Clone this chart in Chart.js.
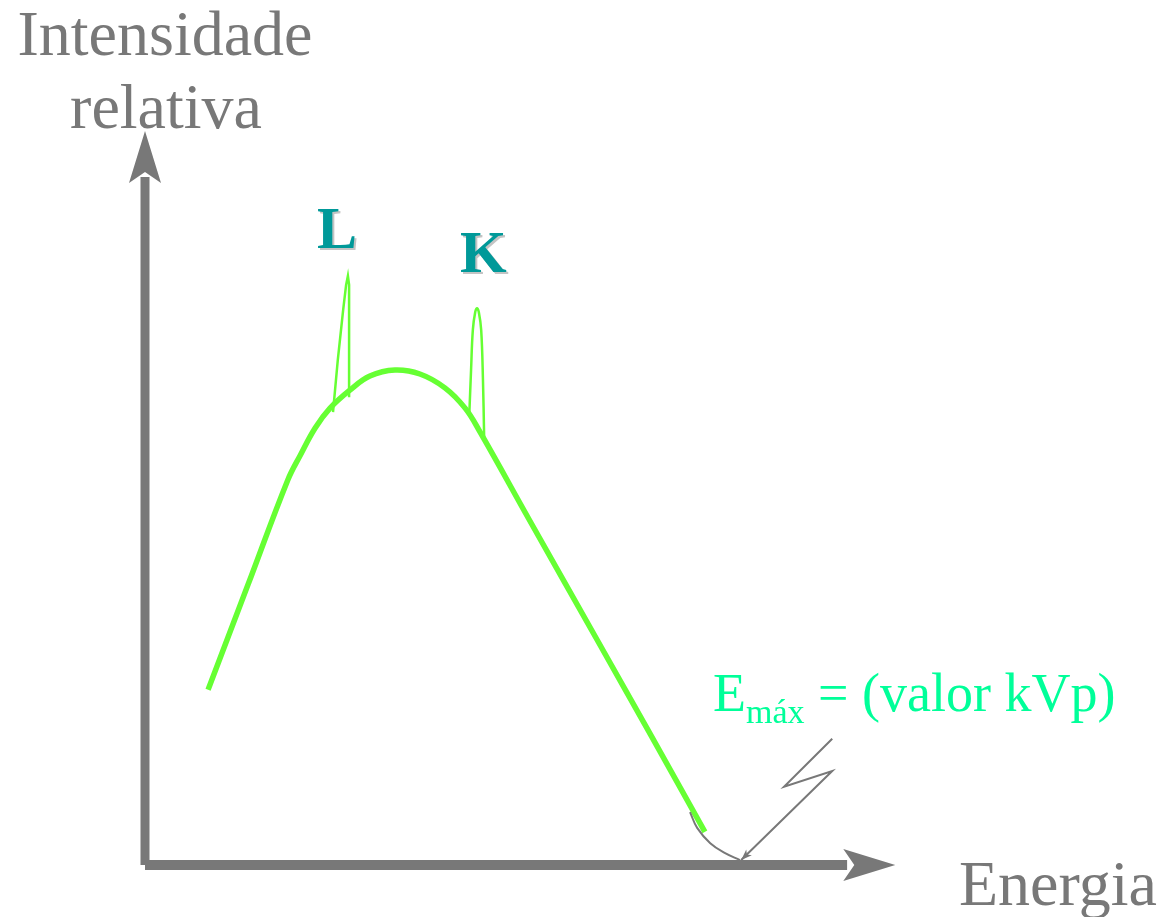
<!DOCTYPE html>
<html>
<head>
<meta charset="utf-8">
<script src="https://cdn.jsdelivr.net/npm/chart.js@4.4.0/dist/chart.umd.min.js"></script>
<style>
  html, body { margin: 0; padding: 0; background: #fff; }
  #wrap { width: 1164px; height: 917px; }
</style>
</head>
<body>
<div id="wrap"><canvas id="c" width="1164" height="917"></canvas></div>
<script>
// energy in units where Emax = 100, intensity where continuum peak = 100
const contE = [10.6, 17.3, 24.0, 26.1, 28.6, 31.1, 34.5, 37.8, 42.0, 46.2, 50.4, 53.8, 56.3, 64.7, 76.5, 84.9, 94.1];
const contI = [35.4, 56.6, 77.8, 82.8, 88.3, 92.3, 96.0, 98.8, 100, 99.2, 96.4, 92.3, 87.5, 69.5, 44.4, 26.5, 6.7];

// characteristic lines
const lineLE = [31.6, 32.4, 33.3, 33.8, 34.1, 34.3, 34.3];
const lineLI = [91.5, 102.0, 112.1, 117.2, 119.0, 117.2, 94.5];
const lineKE = [54.5, 54.8, 55.1, 55.5, 55.8, 56.1, 56.5, 56.8, 57.0];
const lineKI = [90.9, 100.0, 108.1, 111.7, 112.5, 111.7, 108.1, 98.0, 86.3];

// tail approaching Emax
const tailE = [91.6, 92.8, 95.0, 97.5, 100.0];
const tailI = [10.7, 7.5, 4.4, 2.4, 1.0];

// pointer from the Emax label
const ptrE = [115.5, 107.4, 115.5, 100.2];
const ptrI = [25.5, 15.8, 19.0, 1.0];

// axes
const axisYE = [0, 0];
const axisYI = [0, 139.0];
const axisXE = [0, 118.0];
const axisXI = [0, 0];
const arrowTipY = 148.3;
const arrowTipX = 126.1;

const GREEN = '#66ff33';
const GRAY = '#787878';

function pts (xs, ys) {
    return xs.map((x, i) => ({ x: x, y: ys[i] }));
}

function line (xs, ys, color, width, tension) {
    return {
        data: pts(xs, ys),
        showLine: true,
        borderColor: color,
        backgroundColor: color,
        borderWidth: width,
        pointRadius: 0,
        tension: tension,
        borderCapStyle: 'butt',
        fill: false
    };
}

// draws arrowheads and all text
const decor = {
    id: 'decor',
    afterDatasetsDraw (chart) {
        const ctx = chart.ctx;
        const sx = chart.scales.x;
        const sy = chart.scales.y;
        ctx.save();

        // axis arrowheads (stealth shape)
        function stealth (tx, ty, ang, len, half, notch) {
            ctx.save();
            ctx.translate(tx, ty);
            ctx.rotate(ang);
            ctx.beginPath();
            ctx.moveTo(0, 0);
            ctx.lineTo(-len, -half);
            ctx.lineTo(-len + notch, 0);
            ctx.lineTo(-len, half);
            ctx.closePath();
            ctx.fillStyle = GRAY;
            ctx.fill();
            ctx.restore();
        }
        stealth(sx.getPixelForValue(0), sy.getPixelForValue(arrowTipY), -Math.PI / 2, 52, 16, 11);
        stealth(sx.getPixelForValue(arrowTipX), sy.getPixelForValue(0), 0, 52, 16, 11);

        // small arrowhead for the pointer
        const n = ptrE.length;
        const ax = sx.getPixelForValue(ptrE[n - 1]);
        const ay = sy.getPixelForValue(ptrI[n - 1]);
        const bx = sx.getPixelForValue(ptrE[n - 2]);
        const by = sy.getPixelForValue(ptrI[n - 2]);
        stealth(ax, ay, Math.atan2(ay - by, ax - bx), 11, 4, 3);

        // texts
        ctx.textBaseline = 'alphabetic';
        ctx.fillStyle = GRAY;
        ctx.font = '64px "Liberation Serif", serif';
        ctx.textAlign = 'center';
        ctx.fillText('Intensidade', 165, 55);
        ctx.fillText('relativa', 166, 128);
        ctx.textAlign = 'left';
        ctx.fillText('Energia', 959, 905);

        ctx.font = 'bold 60px "Liberation Serif", serif';
        ctx.fillStyle = '#c4c4c4';
        ctx.fillText('L', 319, 250);
        ctx.fillText('K', 462, 274);
        ctx.fillStyle = '#009999';
        ctx.fillText('L', 317, 248);
        ctx.fillText('K', 460, 272);

        ctx.fillStyle = '#00ff99';
        ctx.font = '54px "Liberation Serif", serif';
        let x = 713;
        ctx.fillText('E', x, 711);
        x += ctx.measureText('E').width;
        ctx.font = '34px "Liberation Serif", serif';
        ctx.fillText('máx', x, 723);
        ctx.font = '54px "Liberation Serif", serif';
        ctx.fillText('= (valor kVp)', 818, 711);

        ctx.restore();
    }
};

new Chart(document.getElementById('c'), {
    type: 'scatter',
    data: {
        datasets: [
            line(axisYE, axisYI, GRAY, 9, 0),
            line(axisXE, axisXI, GRAY, 10, 0),
            line(tailE, tailI, GRAY, 2, 0.4),
            line(ptrE, ptrI, GRAY, 2, 0),
            line(contE, contI, GREEN, 5.5, 0.4),
            line(lineLE, lineLI, GREEN, 2.5, 0),
            line(lineKE, lineKI, GREEN, 2.5, 0.4)
        ]
    },
    options: {
        responsive: false,
        animation: false,
        layout: { padding: 0 },
        plugins: { legend: { display: false }, tooltip: { enabled: false } },
        scales: {
            x: { type: 'linear', display: false, min: -24.37, max: 171.26 },
            y: { type: 'linear', display: false, min: -10.5, max: 174.75 }
        }
    },
    plugins: [decor]
});
</script>
</body>
</html>
